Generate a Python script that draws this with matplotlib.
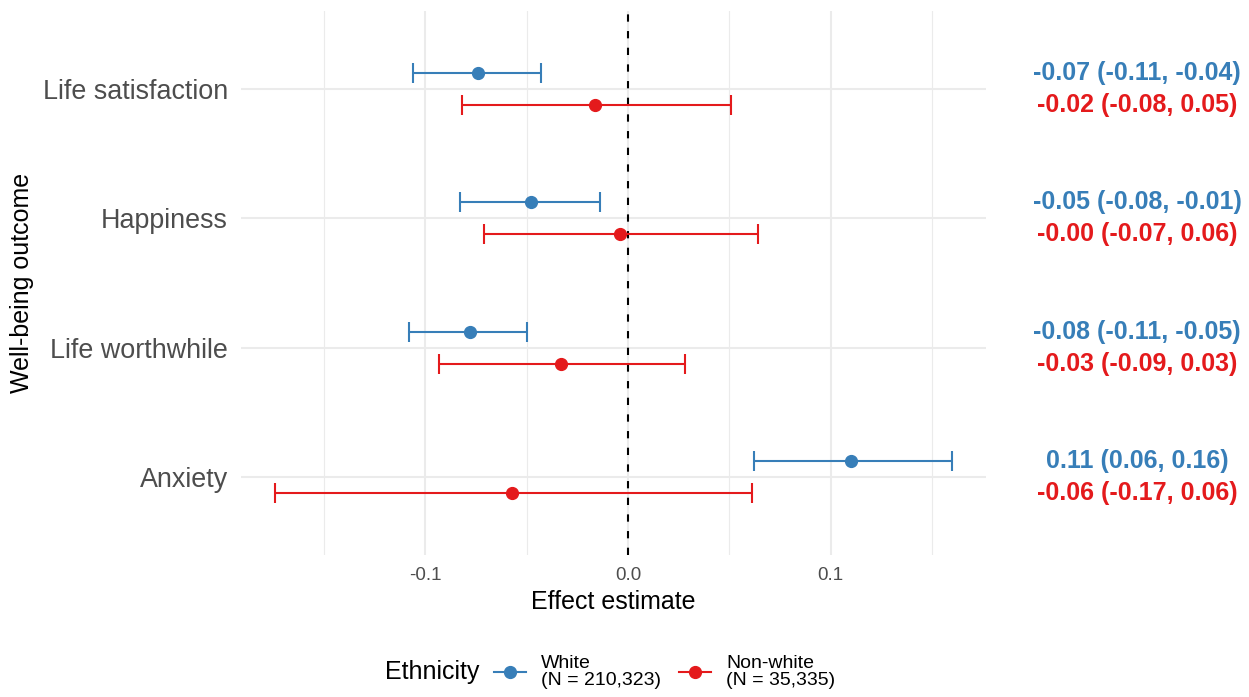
import matplotlib
matplotlib.use("Agg")
import matplotlib.pyplot as plt
from matplotlib.lines import Line2D
from matplotlib.ticker import MultipleLocator, FormatStrFormatter
from matplotlib.transforms import blended_transform_factory

# Well-being outcomes (top to bottom)
outcomes = ["Life satisfaction", "Happiness", "Life worthwhile", "Anxiety"]

# White respondents: estimate and 95% CI
white_est = [-0.074, -0.048, -0.078, 0.110]
white_lo = [-0.106, -0.083, -0.108, 0.062]
white_hi = [-0.043, -0.014, -0.050, 0.160]

# Non-white respondents: estimate and 95% CI
nonwhite_est = [-0.016, -0.004, -0.033, -0.057]
nonwhite_lo = [-0.082, -0.071, -0.093, -0.1742]
nonwhite_hi = [0.051, 0.064, 0.028, 0.061]

group_labels = ["White\n(N = 210,323)", "Non-white\n(N = 35,335)"]
group_colors = ["#377EB8", "#E41A1C"]

plt.rcParams["font.family"] = ["Liberation Sans", "DejaVu Sans"]
plt.rcParams["axes.unicode_minus"] = False

W, H = 1249, 697
fig = plt.figure(figsize=(W / 100, H / 100), dpi=100)
ax = fig.add_axes([241 / W, 1 - 555 / H, 745 / W, 544 / H])

groups = [
    (white_est, white_lo, white_hi),
    (nonwhite_est, nonwhite_lo, nonwhite_hi),
]
dodge = [-0.124, 0.124]

# grid
ax.set_axisbelow(True)
ax.xaxis.set_major_locator(MultipleLocator(0.1))
ax.xaxis.set_minor_locator(MultipleLocator(0.05))
ax.xaxis.set_major_formatter(FormatStrFormatter("%.1f"))
ax.grid(which="major", axis="both", color="#EBEBEB", lw=1.5)
ax.grid(which="minor", axis="x", color="#EBEBEB", lw=0.8)

# reference line at zero
ax.axvline(0, color="black", lw=1.5, ls=(0, (3.5, 4.5)), zorder=1.5)

ypos = list(range(len(outcomes)))
for (est, lo, hi), dy, col in zip(groups, dodge, group_colors):
    ys = [y + dy for y in ypos]
    xerr = [[e - l for e, l in zip(est, lo)], [h - e for e, h in zip(est, hi)]]
    ax.errorbar(est, ys, xerr=xerr, fmt="o", color=col, ms=8.5, lw=1.5,
                capsize=7.2, capthick=1.5, zorder=3)
    tr = blended_transform_factory(fig.transFigure, ax.transData)
    for e, l, h, y in zip(est, lo, hi, ys):
        ax.text(1137 / W, y, f"{e:.2f} ({l:.2f}, {h:.2f})", transform=tr,
                ha="center", va="center", fontsize=18, fontweight="bold",
                color=col, clip_on=False)

all_lo = min(white_lo + nonwhite_lo)
all_hi = max(white_hi + nonwhite_hi)
span = all_hi - all_lo
ax.set_xlim(all_lo - 0.05 * span, all_hi + 0.05 * span)
ax.set_ylim(len(outcomes) - 0.4, -0.6)
ax.set_yticks(ypos)
ax.set_yticklabels(outcomes)

for s in ax.spines.values():
    s.set_visible(False)
ax.tick_params(axis="y", which="both", length=0, pad=9.4, labelsize=19.4,
               labelcolor="#4D4D4D")
ax.tick_params(axis="x", which="both", length=0, pad=9, labelsize=13.5,
               labelcolor="#4D4D4D")

ax.set_xlabel("Effect estimate", fontsize=18, color="black", va="center")
ax.xaxis.set_label_coords(0.5, (555 - 602) / 544)
ax.set_ylabel("Well-being outcome", fontsize=18, color="black", va="center")
ax.yaxis.set_label_coords((22 - 241) / 745, 0.5)

# legend
fig.text(385 / W, 1 - 672 / H, "Ethnicity", fontsize=18, ha="left", va="center")
handles = [Line2D([], [], color=c, marker="o", ms=8.5, lw=1.5) for c in group_colors]
leg = fig.legend(handles, group_labels, loc="center left",
                 bbox_to_anchor=(494 / W, 1 - 672 / H), ncol=2, frameon=False,
                 fontsize=14, borderpad=0, borderaxespad=0, handlelength=1.65,
                 handletextpad=0.77, columnspacing=0.93)
for t in leg.get_texts():
    t.set_linespacing(0.95)

fig.savefig("out.png", dpi=100)
